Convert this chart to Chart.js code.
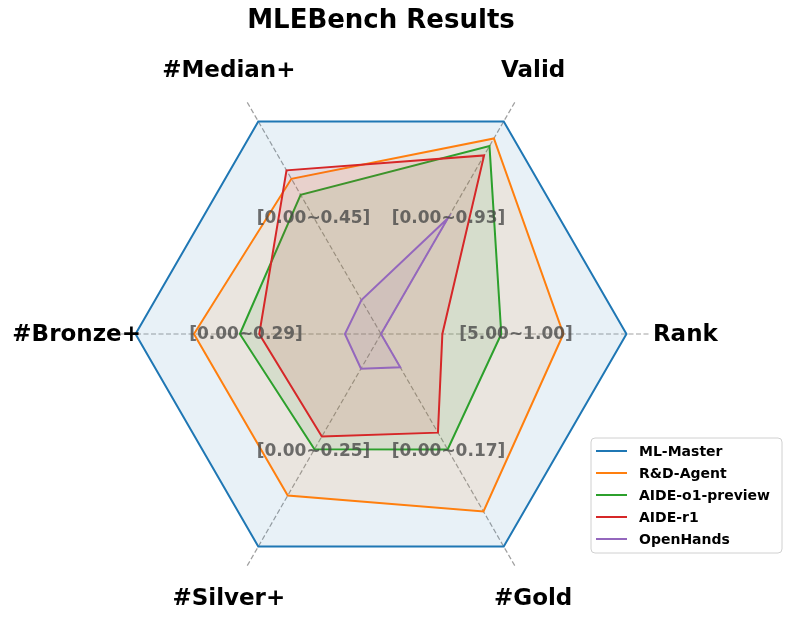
<!DOCTYPE html>
<html>
<head>
<meta charset="utf-8">
<title>MLEBench Results</title>
<script src="https://cdn.jsdelivr.net/npm/chart.js@4.4.1/dist/chart.umd.min.js"></script>
<style>
  body { margin: 0; background: #fff; }
  #wrap { width: 797px; height: 632px; }
</style>
</head>
<body>
<div id="wrap"><canvas id="radarChart" width="797" height="632"></canvas></div>
<script>
// Axis order goes clockwise starting at the right (Rank)
const axisLabels = ['Rank', '#Gold', '#Silver+', '#Bronze+', '#Median+', 'Valid']
const rangeLabels = ['[5.00~1.00]', '[0.00~0.17]', '[0.00~0.25]', '[0.00~0.29]', '[0.00~0.45]', '[0.00~0.93]']

// Normalised scores (0..1)
const mlMaster = [1.0, 1.0, 1.0, 1.0, 1.0, 1.0]
const rdAgent = [0.743, 0.835, 0.76, 0.762, 0.73, 0.92]
const aideO1 = [0.49, 0.543, 0.542, 0.575, 0.655, 0.884]
const aideR1 = [0.25, 0.464, 0.482, 0.496, 0.77, 0.84]
const openHands = [0.0, 0.157, 0.163, 0.147, 0.16, 0.545]

const seriesNames = ['ML-Master', 'R&D-Agent', 'AIDE-o1-preview', 'AIDE-r1', 'OpenHands']
const seriesColors = ['#1f77b4', '#ff7f0e', '#2ca02c', '#d62728', '#9467bd']
const seriesData = [mlMaster, rdAgent, aideO1, aideR1, openHands]

const FONT = '"DejaVu Sans", "Liberation Sans", sans-serif'

function hexToRgba(hex, a) {
  const n = parseInt(hex.slice(1), 16)
  return `rgba(${(n >> 16) & 255}, ${(n >> 8) & 255}, ${n & 255}, ${a})`
}

// Draw axis names, range labels and the legend box on top of the radar
const overlayPlugin = {
  id: 'overlay',
  afterDatasetsDraw(chart) {
    const scale = chart.scales.r
    const ctx = chart.ctx
    ctx.save()
    ctx.textAlign = 'center'
    ctx.textBaseline = 'middle'

    ctx.font = `bold 17px ${FONT}`
    ctx.fillStyle = 'rgba(70, 70, 70, 0.78)'
    rangeLabels.forEach((txt, i) => {
      const p = scale.getPointPosition(i, scale.getDistanceFromCenterForValue(0.55))
      ctx.fillText(txt, p.x, p.y + 1)
    })

    ctx.font = `bold 23px ${FONT}`
    ctx.fillStyle = '#000'
    axisLabels.forEach((txt, i) => {
      const p = scale.getPointPosition(i, scale.getDistanceFromCenterForValue(1.24))
      ctx.fillText(txt, p.x, p.y + 1)
    })
    ctx.restore()
  },
  afterDraw(chart) {
    const ctx = chart.ctx
    const x = 591, y = 438, w = 191, h = 115
    ctx.save()
    ctx.beginPath()
    ctx.roundRect(x, y, w, h, 4)
    ctx.fillStyle = 'rgba(255, 255, 255, 0.8)'
    ctx.fill()
    ctx.strokeStyle = '#d0d0d0'
    ctx.lineWidth = 1
    ctx.stroke()

    ctx.font = `bold 14px ${FONT}`
    ctx.textAlign = 'left'
    ctx.textBaseline = 'middle'
    chart.data.datasets.forEach((ds, i) => {
      const rowY = y + 13 + i * 22
      ctx.strokeStyle = ds.borderColor
      ctx.lineWidth = 2
      ctx.beginPath()
      ctx.moveTo(596, rowY)
      ctx.lineTo(627, rowY)
      ctx.stroke()
      ctx.fillStyle = '#000'
      ctx.fillText(ds.label, 639, rowY + 1)
    })
    ctx.restore()
  },
}

const datasets = seriesNames.map((name, i) => ({
  label: name,
  data: seriesData[i],
  borderColor: seriesColors[i],
  backgroundColor: hexToRgba(seriesColors[i], 0.1),
  borderWidth: 2,
  pointRadius: 0,
  pointHoverRadius: 0,
  fill: true,
  order: seriesNames.length - i, // later series drawn on top
}))

const ctx = document.getElementById('radarChart').getContext('2d')
new Chart(ctx, {
  type: 'radar',
  data: {
    labels: axisLabels,
    datasets: datasets,
  },
  options: {
    responsive: false,
    animation: false,
    layout: {
      padding: { left: 0, right: 35, top: 0, bottom: 28 },
    },
    elements: {
      line: { tension: 0 },
    },
    scales: {
      r: {
        min: 0,
        max: 1.1,
        startAngle: 90,
        ticks: { display: false },
        grid: { display: false },
        pointLabels: { display: false },
        angleLines: {
          display: true,
          color: 'rgba(150, 150, 150, 0.9)',
          lineWidth: 1.2,
          borderDash: [5, 2.5],
        },
      },
    },
    plugins: {
      legend: { display: false },
      tooltip: { enabled: false },
      title: {
        display: true,
        text: 'MLEBench Results',
        color: '#000',
        font: { family: FONT, size: 26, weight: 'bold' },
        padding: { top: 6, bottom: 26.8 },
      },
    },
  },
  plugins: [overlayPlugin],
})
</script>
</body>
</html>
